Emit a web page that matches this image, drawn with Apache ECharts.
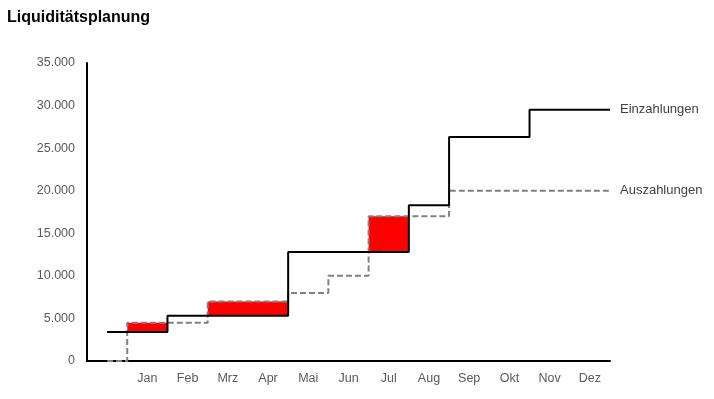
<!DOCTYPE html>
<html>
<head>
<meta charset="utf-8">
<script src="https://cdn.jsdelivr.net/npm/echarts@6/dist/echarts.min.js"></script>
<style>
  html, body { margin: 0; padding: 0; background: #fff; }
  #chart { width: 714px; height: 399px; }
</style>
</head>
<body>
<div id="chart"></div>
<script>
// first slot is the opening balance before January
const months = ['', 'Jan', 'Feb', 'Mrz', 'Apr', 'Mai', 'Jun', 'Jul', 'Aug', 'Sep', 'Okt', 'Nov', 'Dez'];
const einzahlungen = [3400, 3400, 5300, 5300, 5300, 12800, 12800, 12800, 18300, 26300, 26300, 29500, 29500];
const auszahlungen = [0, 4500, 4500, 7000, 7000, 8000, 10000, 17000, 17000, 20000, 20000, 20000, 20000];

// cumulative step points: each value holds from its slot's left edge to the next
function steps(vals) {
  const pts = vals.map((v, i) => [i === 0 ? 0.5 : i, v]);
  pts.push([vals.length, vals[vals.length - 1]]);
  return pts;
}

// shortfall areas where payments out exceed payments in (neighbours with same values merged)
const gaps = [];
months.forEach((m, i) => {
  if (auszahlungen[i] <= einzahlungen[i]) return;
  const last = gaps[gaps.length - 1];
  if (last && last[1].coord[0] === i && last[0].coord[1] === einzahlungen[i] && last[1].coord[1] === auszahlungen[i]) {
    last[1].coord[0] = i + 1;
  } else {
    gaps.push([{ coord: [i, einzahlungen[i]] }, { coord: [i + 1, auszahlungen[i]] }]);
  }
});

const fmt = v => v.toLocaleString('de-DE');
const chart = echarts.init(document.getElementById('chart'));
chart.setOption({
  animation: false,
  title: {
    text: 'Liquiditätsplanung', left: 2, top: 5,
    textStyle: { fontFamily: 'Liberation Sans', fontSize: 16, fontWeight: 'bold', color: '#000' }
  },
  grid: { left: 87, right: 104, top: 63, bottom: 38 },
  xAxis: [
    { type: 'category', data: months, boundaryGap: true,
      axisLine: { lineStyle: { color: '#000', width: 2 } },
      axisTick: { show: false },
      axisLabel: { color: '#595959', fontFamily: 'Liberation Sans', fontSize: 12.5, margin: 11 } },
    { type: 'value', min: 0, max: months.length, show: false }
  ],
  yAxis: {
    type: 'value', min: 0, max: 35000, interval: 5000,
    axisLine: { show: true, lineStyle: { color: '#000', width: 2 } },
    axisTick: { show: false },
    splitLine: { show: false },
    axisLabel: { color: '#595959', fontFamily: 'Liberation Sans', fontSize: 12.5, margin: 12, formatter: fmt }
  },
  series: [
    { type: 'line', xAxisIndex: 1, data: [], z: 1, silent: true,
      markArea: { silent: true, itemStyle: { color: '#ff0000', opacity: 1, borderWidth: 0 }, data: gaps } },
    { name: 'Einzahlungen', type: 'line', xAxisIndex: 1, step: 'end', z: 3,
      data: steps(einzahlungen), symbol: 'none',
      lineStyle: { color: '#000', width: 2 },
      endLabel: { show: true, formatter: '{a}', distance: 10, color: '#404040',
        fontFamily: 'Liberation Sans', fontSize: 13 } },
    { name: 'Auszahlungen', type: 'line', xAxisIndex: 1, step: 'end', z: 2,
      data: steps(auszahlungen), symbol: 'none',
      lineStyle: { color: '#808080', width: 2, type: [6, 3] },
      endLabel: { show: true, formatter: '{a}', distance: 10, color: '#404040',
        fontFamily: 'Liberation Sans', fontSize: 13 } }
  ]
});
</script>
</body>
</html>
